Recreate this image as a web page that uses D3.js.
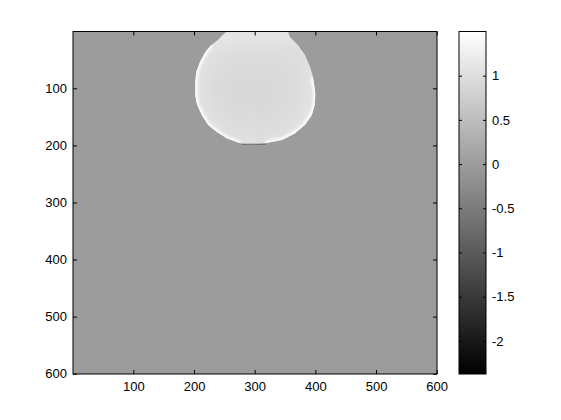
<!DOCTYPE html>
<html>
<head>
<meta charset="UTF-8">
<title>imagesc</title>
<script src="https://cdn.jsdelivr.net/npm/d3@7"></script>
<style>
  body { margin: 0; background: #fff; }
  text { font-family: "Liberation Sans", Arial, sans-serif; font-size: 13px; fill: #000; }
</style>
</head>
<body>
<svg id="chart" width="561" height="420"></svg>
<script>
// image is 600 x 600, background value 0, a bright blob near the top
const imgSize = [600, 600];
const bgValue = 0;
const cLim = [-2.375, 1.50];

const xTicks = [100, 200, 300, 400, 500, 600];
const yTicks = [100, 200, 300, 400, 500, 600];
const cbTicks = [-2, -1.5, -1, -0.5, 0, 0.5, 1];

// blob outline (data units)
const blobLeftY  = [0.5, 4, 15.7, 24.4, 36, 53.5, 70.4, 88, 112, 129, 147, 164, 176, 187.6, 196.3, 199];
const blobLeftX  = [254, 250, 239, 228, 219, 210, 204, 202, 202, 205, 213, 223, 237, 254, 276, 290];
const blobRightY = [0.5, 10.5, 15.4, 24, 33, 41.5, 50, 62, 80, 100, 112, 129, 147, 164, 179, 190.5, 196.3, 199];
const blobRightX = [355, 358, 363, 371, 377, 383, 386, 391, 396, 399, 400, 399, 394, 383, 366, 345, 317, 298];

// coarse values inside the blob, 20x20 cells starting at x=200, y=0
const blobCellX = [200, 220, 240, 260, 280, 300, 320, 340, 360, 380];
const blobCellY = [0, 20, 40, 60, 80, 100, 120, 140, 160, 180];
const blobCells = [
  [1.16, 1.16, 1.14, 1.12, 1.11, 1.11, 1.12, 1.10, 1.06, 1.06],
  [1.10, 1.08, 1.05, 1.03, 1.02, 1.02, 1.03, 1.03, 1.02, 1.02],
  [1.08, 1.01, 0.98, 0.97, 0.97, 0.97, 0.97, 0.98, 1.00, 1.04],
  [1.06, 0.98, 0.95, 0.94, 0.94, 0.94, 0.94, 0.95, 0.98, 1.06],
  [1.06, 0.97, 0.94, 0.93, 0.93, 0.93, 0.93, 0.94, 0.97, 1.06],
  [1.06, 0.97, 0.94, 0.93, 0.93, 0.93, 0.93, 0.94, 0.97, 1.06],
  [1.08, 0.99, 0.95, 0.93, 0.93, 0.93, 0.93, 0.95, 0.99, 1.08],
  [1.12, 1.02, 0.97, 0.94, 0.95, 0.94, 0.95, 0.97, 1.02, 1.12],
  [1.18, 1.08, 1.00, 0.97, 1.01, 0.95, 1.00, 0.99, 1.08, 1.18],
  [1.22, 1.16, 1.06, 1.00, 1.04, 0.99, 1.06, 1.04, 1.16, 1.22]
];
const rimValue = 1.42;
const darkRow = 198, darkFrom = 278, darkTo = 318, darkValue = -0.9;

const svg = d3.select("#chart");

const x = d3.scaleLinear().domain([0.5, imgSize[0] + 0.5]).range([73, 437]);
const y = d3.scaleLinear().domain([0.5, imgSize[1] + 0.5]).range([31.5, 374]);
const color = d3.scaleLinear().domain(cLim).range(["#000000", "#ffffff"]).clamp(true);

const defs = svg.append("defs");
defs.append("clipPath").attr("id", "plotclip")
    .append("rect")
    .attr("x", x(0.5)).attr("y", y(0.5))
    .attr("width", x(imgSize[0] + 0.5) - x(0.5))
    .attr("height", y(imgSize[1] + 0.5) - y(0.5));

// blob polygon: left side top -> bottom, then right side bottom -> top
const leftPts = blobLeftY.map((v, i) => [blobLeftX[i], v]);
const rightPts = blobRightY.map((v, i) => [blobRightX[i], v]);
const outline = leftPts.concat(rightPts.slice().reverse());
const line = d3.line().x(d => x(d[0])).y(d => y(d[1]));

defs.append("clipPath").attr("id", "blobclip")
    .append("path").attr("d", line(outline) + "Z");
defs.append("filter").attr("id", "soft")
    .attr("x", "-20%").attr("y", "-20%").attr("width", "140%").attr("height", "140%")
    .append("feGaussianBlur").attr("stdDeviation", 4);
defs.append("filter").attr("id", "rimblur")
    .append("feGaussianBlur").attr("stdDeviation", 0.9);

const plot = svg.append("g").attr("clip-path", "url(#plotclip)");

plot.append("rect")
    .attr("x", x(0.5)).attr("y", y(0.5))
    .attr("width", x(imgSize[0] + 0.5) - x(0.5))
    .attr("height", y(imgSize[1] + 0.5) - y(0.5))
    .attr("fill", color(bgValue));

const blob = plot.append("g").attr("clip-path", "url(#blobclip)");
blob.append("path").attr("d", line(outline) + "Z").attr("fill", color(1.0));

const cellData = [];
blobCells.forEach((row, r) => row.forEach((v, c) => cellData.push({ cx: blobCellX[c], cy: blobCellY[r], v: v })));
blob.append("g").attr("filter", "url(#soft)")
  .selectAll("rect").data(cellData).join("rect")
    .attr("x", d => x(d.cx))
    .attr("y", d => y(d.cy))
    .attr("width", x(220) - x(200) + 0.5)
    .attr("height", y(20) - y(0) + 0.5)
    .attr("fill", d => color(d.v));

// bright rim along the left and right sides
[leftPts.slice(3, 15), rightPts.slice(8, 17)].forEach(pts => {
  blob.append("path")
      .attr("d", line(pts))
      .attr("fill", "none")
      .attr("stroke", color(rimValue))
      .attr("stroke-width", 5)
      .attr("filter", "url(#rimblur)");
});

plot.append("line")
    .attr("x1", x(darkFrom)).attr("x2", x(darkTo))
    .attr("y1", y(darkRow)).attr("y2", y(darkRow))
    .attr("stroke", color(darkValue)).attr("stroke-width", 1);

// axes, ticks inward on all four sides
const tk = 4;
svg.append("g").attr("transform", `translate(0,${y(imgSize[1] + 0.5)})`)
  .call(d3.axisBottom(x).tickValues(xTicks).tickSizeInner(-tk).tickSizeOuter(0).tickPadding(8));
svg.append("g").attr("transform", `translate(0,${y(0.5)})`)
  .call(d3.axisTop(x).tickValues(xTicks).tickSizeInner(-tk).tickSizeOuter(0).tickFormat(""));
svg.append("g").attr("transform", `translate(${x(0.5)},0)`)
  .call(d3.axisLeft(y).tickValues(yTicks).tickSizeInner(-tk).tickSizeOuter(0).tickPadding(6));
svg.append("g").attr("transform", `translate(${x(imgSize[0] + 0.5)},0)`)
  .call(d3.axisRight(y).tickValues(yTicks).tickSizeInner(-tk).tickSizeOuter(0).tickFormat(""));
svg.selectAll(".domain").remove();
svg.selectAll(".tick text").style("font-size", "13px").attr("font-family", null);

svg.append("rect")
    .attr("x", x(0.5)).attr("y", y(0.5))
    .attr("width", x(imgSize[0] + 0.5) - x(0.5))
    .attr("height", y(imgSize[1] + 0.5) - y(0.5))
    .attr("fill", "none").attr("stroke", "#000").attr("stroke-width", 1);

// colorbar
const cbX0 = 459, cbX1 = 486;
const cy = d3.scaleLinear().domain(cLim).range([374, 31.5]);
const grad = defs.append("linearGradient").attr("id", "cbgrad")
    .attr("x1", 0).attr("y1", 1).attr("x2", 0).attr("y2", 0);
grad.append("stop").attr("offset", 0).attr("stop-color", color(cLim[0]));
grad.append("stop").attr("offset", 1).attr("stop-color", color(cLim[1]));

svg.append("rect")
    .attr("x", cbX0).attr("y", cy(cLim[1]))
    .attr("width", cbX1 - cbX0).attr("height", cy(cLim[0]) - cy(cLim[1]))
    .attr("fill", "url(#cbgrad)");

svg.append("g").attr("transform", `translate(${cbX1},0)`)
  .call(d3.axisRight(cy).tickValues(cbTicks).tickSizeInner(-3).tickSizeOuter(0).tickPadding(6)
        .tickFormat(d => String(d)));
svg.append("g").attr("transform", `translate(${cbX0},0)`)
  .call(d3.axisLeft(cy).tickValues(cbTicks).tickSizeInner(-3).tickSizeOuter(0).tickFormat(""));
svg.selectAll(".domain").remove();
svg.selectAll(".tick text").style("font-size", "13px").attr("font-family", null);

svg.append("rect")
    .attr("x", cbX0).attr("y", cy(cLim[1]))
    .attr("width", cbX1 - cbX0).attr("height", cy(cLim[0]) - cy(cLim[1]))
    .attr("fill", "none").attr("stroke", "#000").attr("stroke-width", 1);
</script>
</body>
</html>
